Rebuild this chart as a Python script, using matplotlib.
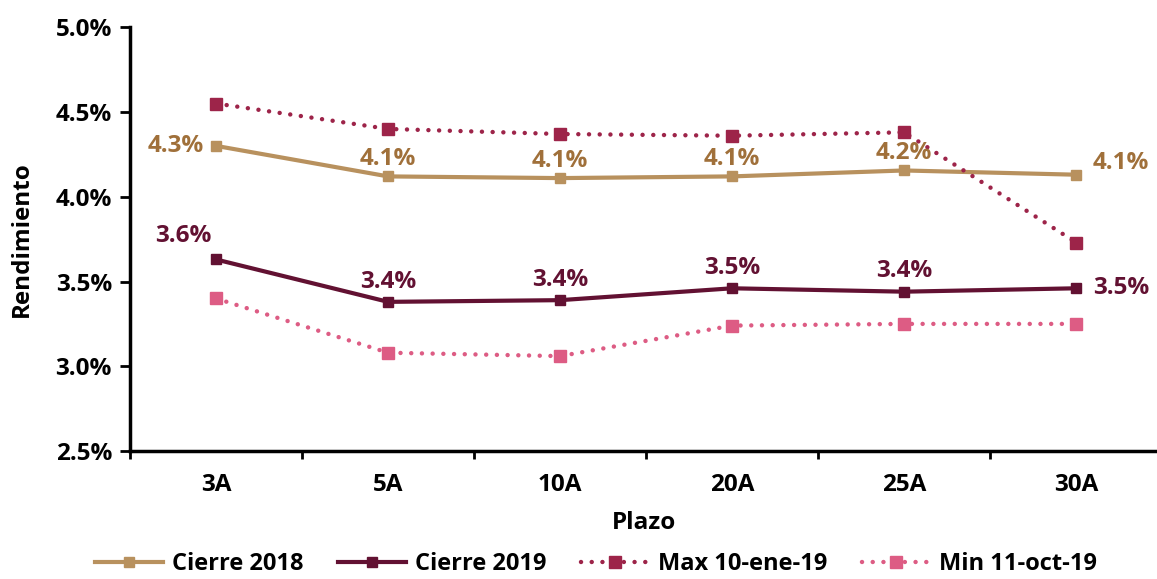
import numpy as np
import matplotlib.pyplot as plt
from matplotlib.ticker import FuncFormatter, FixedLocator

plazos = ['3A', '5A', '10A', '20A', '25A', '30A']
cierre_2018 = [4.30, 4.12, 4.11, 4.12, 4.155, 4.13]
cierre_2019 = [3.63, 3.38, 3.39, 3.46, 3.44, 3.46]
max_ene19 = [4.55, 4.40, 4.37, 4.36, 4.38, 3.73]
min_oct19 = [3.40, 3.08, 3.06, 3.24, 3.25, 3.25]

c18 = '#B8915E'
c18_txt = '#A0703A'
c19 = '#621132'
cmax = '#9D2449'
cmin = '#DD5C84'

plt.rcParams['font.family'] = ['Open Sans', 'DejaVu Sans']
plt.rcParams['font.weight'] = 'bold'

fig = plt.figure(figsize=(11.57, 5.79), dpi=100)
ax = fig.add_axes([0.1124, 0.221, 0.8876, 0.732])

x = np.arange(len(plazos))
dots = (0, (0.01, 2.4))
ax.plot(x, cierre_2018, color=c18, lw=3, marker='s', ms=7, label='Cierre 2018')
ax.plot(x, cierre_2019, color=c19, lw=3, marker='s', ms=7, label='Cierre 2019')
ax.plot(x, max_ene19, color=cmax, lw=3.2, ls=dots, dash_capstyle='round',
        marker='s', ms=8, label='Max 10-ene-19')
ax.plot(x, min_oct19, color=cmin, lw=3.2, ls=dots, dash_capstyle='round',
        marker='s', ms=8, label='Min 11-oct-19')

# etiquetas de datos
fs = 17.5
lbl = dict(fontsize=fs, fontweight='bold')
for i, v in enumerate(cierre_2018):
    txt = f'{v:.1f}%'
    if i == 0:
        ax.annotate(txt, (i, v), xytext=(-9, 0), textcoords='offset points',
                    ha='right', va='center', color=c18_txt, **lbl)
    elif i == len(plazos) - 1:
        ax.annotate(txt, (i, v), xytext=(12, 0), textcoords='offset points',
                    ha='left', va='bottom', color=c18_txt, **lbl)
    else:
        ax.annotate(txt, (i, v), xytext=(0, 4), textcoords='offset points',
                    ha='center', va='bottom', color=c18_txt, **lbl)

for i, v in enumerate(cierre_2019):
    txt = f'{v:.1f}%'
    if i == 0:
        ax.annotate(txt, (i, v), xytext=(-3, 8), textcoords='offset points',
                    ha='right', va='bottom', color=c19, **lbl)
    elif i == len(plazos) - 1:
        ax.annotate(txt, (i, v), xytext=(12, 0), textcoords='offset points',
                    ha='left', va='center', color=c19, **lbl)
    else:
        ax.annotate(txt, (i, v), xytext=(0, 6), textcoords='offset points',
                    ha='center', va='bottom', color=c19, **lbl)

ax.set_xlim(-0.5, 5.47)
ax.set_ylim(2.5, 5.0)
ax.set_yticks(np.arange(2.5, 5.01, 0.5))
ax.yaxis.set_major_formatter(FuncFormatter(lambda v, p: f'{v:.1f}%'))
ax.set_xticks(x)
ax.set_xticklabels(plazos)
ax.xaxis.set_minor_locator(FixedLocator(np.arange(-0.5, 5.0, 1.0)))
ax.tick_params(axis='x', which='major', length=0, pad=16, labelsize=fs)
ax.tick_params(axis='x', which='minor', length=6, width=2)
ax.tick_params(axis='y', length=7, width=2, labelsize=fs, pad=6)

for s in ['top', 'right']:
    ax.spines[s].set_visible(False)
for s in ['left', 'bottom']:
    ax.spines[s].set_linewidth(2.5)

ax.set_xlabel('Plazo', fontsize=fs, fontweight='bold', labelpad=10)
ax.set_ylabel('Rendimiento', fontsize=fs, fontweight='bold', labelpad=16)

fig.legend(loc='lower center', bbox_to_anchor=(0.515, -0.032), ncol=4, frameon=False,
           fontsize=17, handlelength=2.9, columnspacing=1.45, handletextpad=0.37)

fig.savefig('out.png', dpi=100)
